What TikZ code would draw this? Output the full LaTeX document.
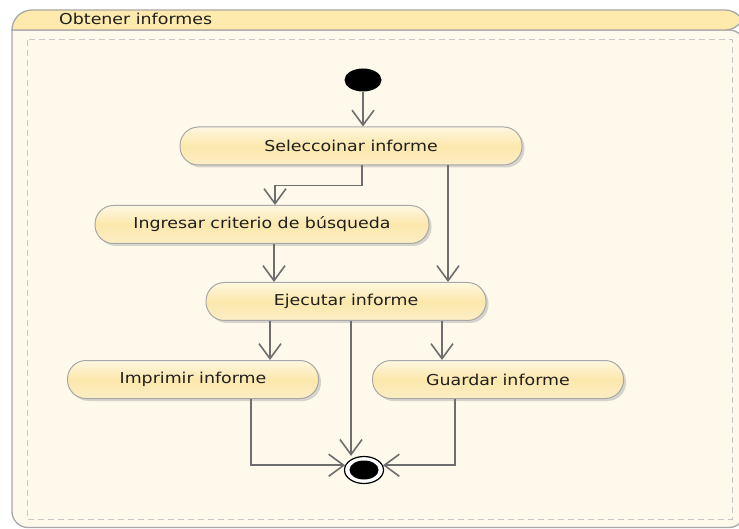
\documentclass[tikz,border=0pt]{standalone}
\usepackage{fontspec}
\setmainfont{DejaVu Sans}[FakeStretch=1.16]
\usetikzlibrary{arrows.meta,shadows,shapes.geometric}

\definecolor{headc}{RGB}{253,234,172}
\definecolor{bodyc}{RGB}{254,249,234}
\definecolor{framec}{RGB}{168,168,168}
\definecolor{dashc}{RGB}{200,200,200}
\definecolor{arrc}{RGB}{110,110,110}
\definecolor{nodetop}{RGB}{254,247,224}
\definecolor{nodemid}{RGB}{252,232,172}
\definecolor{nodebot}{RGB}{252,238,198}
\definecolor{nodeline}{RGB}{168,168,168}

\tikzset{
  activity/.style={rectangle, rounded corners=18.5pt, draw=nodeline, line width=1pt,
    top color=nodetop, bottom color=nodebot, middle color=nodemid,
    minimum height=38pt, inner sep=0pt, font=\fontsize{15}{18}\selectfont, text=black!88,
    drop shadow={shadow xshift=2.5pt, shadow yshift=-2.5pt, fill=black!35, opacity=0.45}},
  flow/.style={draw=arrc, line width=1.6pt,
    -{Straight Barb[length=15pt,width=22pt,line width=1.6pt]}},
  startdot/.style={ellipse, fill=black, inner sep=0pt, minimum width=37pt, minimum height=23pt},
  endring/.style={ellipse, draw=black, line width=1.2pt, fill=white, inner sep=0pt,
    minimum width=39pt, minimum height=27pt},
  enddot/.style={ellipse, fill=black, inner sep=0pt, minimum width=29pt, minimum height=19pt},
}

\begin{document}
\begin{tikzpicture}[x=1pt,y=-1pt]
  \clip (0,0) rectangle (739,529);

  % activity frame: body, header band and dashed content area
  \path[fill=bodyc, draw=framec, line width=1.3pt]
    (12,30) [rounded corners=16pt] -- (12,527.5) -- (745,527.5) -- (745,30) [sharp corners] -- cycle;
  \path[fill=headc, draw=framec, line width=1.3pt]
    (12,30) [rounded corners=20pt] -- (12,10) -- (745,10) -- (745,30) [sharp corners] -- cycle;
  \node[anchor=west, font=\fontsize{15}{18}\selectfont, text=black!88, inner sep=0pt] (title) at (59,19) {Obtener informes};
  \draw[dashc, line width=1pt, dash pattern=on 6pt off 4pt] (27,40) rectangle (732,519);

  % actions
  \node[startdot] (ini) at (363,80) {};
  \node[activity, minimum width=342pt] (sel) at (351,146) {Seleccoinar informe};
  \node[activity, minimum width=334pt] (ing) at (262,224.5) {Ingresar criterio de búsqueda};
  \node[activity, minimum width=280pt] (ejec) at (346,301.5) {Ejecutar informe};
  \node[activity, minimum width=251pt] (imp) at (193,379.5) {Imprimir informe};
  \node[activity, minimum width=251pt] (gua) at (498,379.5) {Guardar informe};
  \node[endring] (fin) at (364,470) {};
  \node[enddot] (findot) at (fin) {};

  % control flows
  \draw[flow] (ini.south) -- (ini.south |- sel.north);
  \draw[flow] ([xshift=11pt]sel.south) -- ++(0,20) -| ([xshift=13pt]ing.north);
  \draw[flow] ([xshift=97pt]sel.south) -- ([xshift=97pt]sel.south |- ejec.north);
  \draw[flow] ([xshift=12pt]ing.south) -- ([xshift=12pt]ing.south |- ejec.north);
  \draw[flow] ([xshift=-76pt]ejec.south) -- ([xshift=-76pt]ejec.south |- imp.north);
  \draw[flow] ([xshift=96pt]ejec.south) -- ([xshift=96pt]ejec.south |- gua.north);
  \draw[flow] ([xshift=5pt]ejec.south) -- ([xshift=5pt]ejec.south |- fin.north);
  \draw[flow] ([xshift=58pt]imp.south) |- (fin.166);
  \draw[flow] ([xshift=-43pt]gua.south) |- (fin.14);
\end{tikzpicture}
\end{document}
